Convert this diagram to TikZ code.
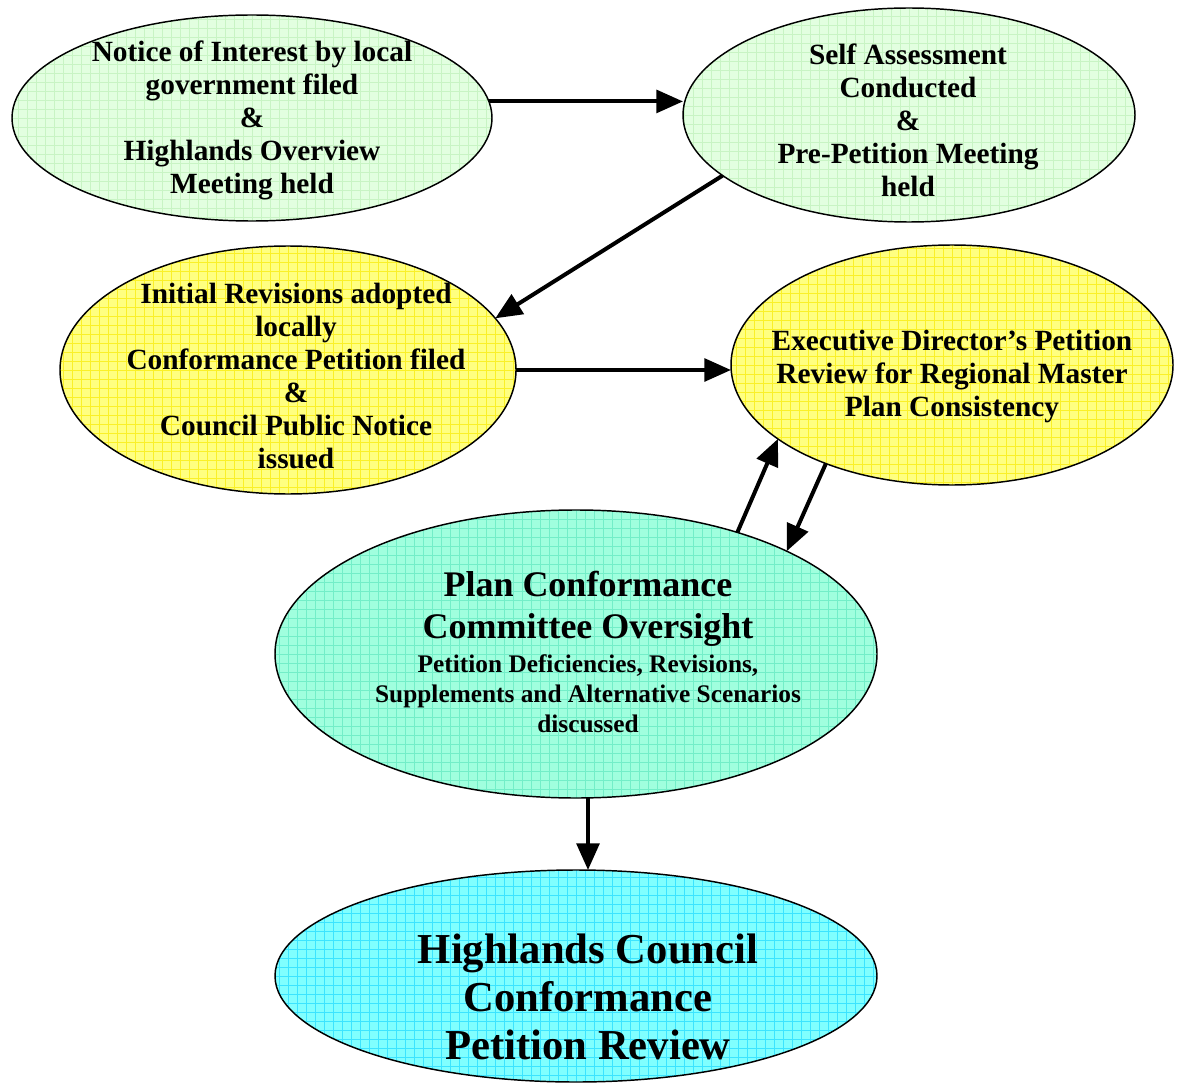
\documentclass[tikz,border=0pt]{standalone}
\usepackage{fontspec}
\setmainfont{Liberation Serif}
\usetikzlibrary{shapes.geometric,arrows.meta}
\definecolor{gfill}{RGB}{226,255,224}
\definecolor{ggrid}{RGB}{200,244,196}
\definecolor{yfill}{RGB}{255,255,128}
\definecolor{ygrid}{RGB}{250,240,40}
\definecolor{tfill}{RGB}{160,255,222}
\definecolor{tgrid}{RGB}{115,238,200}
\definecolor{cfill}{RGB}{128,255,255}
\definecolor{cgrid}{RGB}{60,228,255}
\tikzset{
  oval/.style n args={2}{ellipse, draw=black, line width=1.1pt, inner sep=0pt, outer sep=0pt, fill=#1,
    path picture={\draw[#2, line width=0.5pt, step=6.75pt] (path picture bounding box.south west) grid (path picture bounding box.north east);}},
  txt/.style={align=center, inner sep=0pt, font=\bfseries\fontsize{22}{24.75}\selectfont},
  arr/.style={line width=3pt, -{Triangle[length=20pt,width=17pt]}}
}
\begin{document}
\begin{tikzpicture}[x=0.75pt,y=-0.75pt]
\useasboundingbox (0,0) rectangle (1177,1084);
% ellipses
\node[oval={gfill}{ggrid}, minimum width=360pt, minimum height=154.5pt] (n1) at (252,118) {};
\node[oval={gfill}{ggrid}, minimum width=339pt, minimum height=160.5pt] (n2) at (909,115) {};
\node[oval={yfill}{ygrid}, minimum width=342pt, minimum height=186pt] (n3) at (288,370) {};
\node[oval={yfill}{ygrid}, minimum width=331.5pt, minimum height=180pt] (n4) at (952,365) {};
\node[oval={tfill}{tgrid}, minimum width=451.5pt, minimum height=216pt] (n5) at (576,654) {};
\node[oval={cfill}{cgrid}, minimum width=451.5pt, minimum height=159pt] (n6) at (576,976) {};
% texts
\node[txt] (t1) at (252,120) {Notice of Interest by local\\government filed\\\&\\Highlands Overview\\Meeting held};
\node[txt] (t2) at (908,120) {Self Assessment\\Conducted\\\&\\Pre-Petition Meeting\\held};
\node[txt] (t3) at (296,376) {Initial Revisions adopted\\locally\\Conformance Petition filed\\\&\\Council Public Notice\\issued};
\node[txt] (t4) at (952,376) {Executive Director’s Petition\\Review for Regional Master\\Plan Consistency};
\node[txt, font=\bfseries\fontsize{27}{31.5}\selectfont] (t5a) at (588,609) {Plan Conformance\\Committee Oversight};
\node[txt, font=\bfseries\fontsize{19}{22.5}\selectfont] (t5b) at (588,694) {Petition Deficiencies, Revisions,\\Supplements and Alternative Scenarios\\discussed};
\node[txt, font=\bfseries\fontsize{32}{36}\selectfont] (t6) at (588,997) {Highlands Council\\Conformance\\Petition Review};
% connectors
\draw[arr] (n1.4) -- (n1.4 -| n2.west);
\draw[arr] (n2.198) -- (n3.14.5);
\draw[arr] (n3.east) -- (n3.east -| n4.west);
\draw[arr] (n5.37.6) -- (n4.203.5);
\draw[arr] (n4.218.3) -- (n5.26.5);
\draw[arr] ([xshift=9pt]n5.south) -- ([xshift=9pt]n6.north);
\end{tikzpicture}
\end{document}
